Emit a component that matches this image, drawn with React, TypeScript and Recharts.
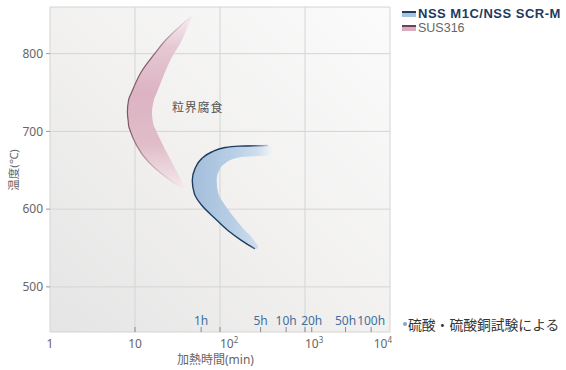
import { ComposedChart, Area, Line, XAxis, YAxis, CartesianGrid } from 'recharts'

// SUS316 sensitization band: temperature (°C) vs heating time (min), outer/inner edge
const sus316Temp = [849, 833, 815, 798, 776, 750, 740.3, 724.8, 711.9, 704, 682, 660, 640, 627]
const sus316Outer = [46.8, 32.1, 21.9, 16.5, 11.77, 9.1, 8.4, 8.14, 8.34, 8.57, 10.42, 14.61, 23.8, 34.8]
const sus316Inner = [48.5, 40.9, 34.8, 28.0, 22.5, 18.1, 16.7, 15.85, 16.3, 17.2, 21.4, 27.3, 33.8, 37.7]

// NSS M1C / NSS SCR-M band
const nssTemp = [681.8, 679.3, 673.5, 669.3, 667.3, 665, 658.6, 652.1, 637, 620, 605, 588, 572.5, 564, 559.6, 551, 549]
const nssOuter = [172, 114.5, 79.8, 68.4, 64, 60.9, 55.1, 50.8, 47.2, 49.9, 60.9, 87.4, 124, 154, 180, 238, 258]
const nssInner = [400, 420, 420, 400, 186, 150, 114.5, 100, 91.4, 95.5, 114.5, 150, 197, 236, 251, 282, 272]

// dark edge line along the outside of the NSS band
const nssEdgeTemp = [681.8, 681.0, 679.3, 673.5, 665, 652.1, 637, 620, 605, 588, 572.5, 559.6, 549]
const nssEdgeTime = [367, 172, 114.5, 79.8, 60.9, 50.8, 47.2, 49.9, 60.9, 87.4, 124, 180, 258]

const decadeTicks = [1, 10, 100, 1000, 10000]
const decadeExp = ['', '', '2', '3', '4']
const hourTickValues = [10, 60, 100, 300, 600, 1000, 1200, 3000, 6000]
const hourTickLabels = ['', '1h', '', '5h', '10h', '', '20h', '50h', '100h']
const tempTicks = [500, 600, 700, 800]

const sus316Data = sus316Temp.map((t, i) => ({ t, band: [sus316Outer[i], sus316Inner[i]], edge: sus316Outer[i] }))
const nssData = nssTemp.map((t, i) => ({ t, band: [nssOuter[i], nssInner[i]] }))
const nssEdgeData = nssEdgeTemp.map((t, i) => ({ t, edge: nssEdgeTime[i] }))

const FONT = '"Noto Sans", "Noto Sans CJK JP", sans-serif'
const LEGEND_FONT = '"Liberation Sans", "Noto Sans", sans-serif'

function DecadeTick(props: any) {
  const { x, y, payload } = props
  const i = decadeTicks.indexOf(payload.value)
  const exp = decadeExp[i]
  if (!exp) {
    return (
      <text x={x} y={y + 16} textAnchor="middle" fontSize={12} fill="#666" fontFamily={FONT}>
        {payload.value}
      </text>
    )
  }
  const last = i === decadeTicks.length - 1
  return (
    <text x={last ? x + 2 : x} y={y + 16} textAnchor={last ? 'end' : 'start'} fontSize={12} fill="#666" fontFamily={FONT}>
      10
      <tspan dy={-5} fontSize={8}>{exp}</tspan>
    </text>
  )
}

function HourTick(props: any) {
  const { x, y, payload } = props
  const label = hourTickLabels[hourTickValues.indexOf(payload.value)]
  if (!label) return <g />
  return (
    <text x={x} y={y} textAnchor="middle" fontSize={12} fill="#3f6f9f" fontFamily={FONT}>
      {label}
    </text>
  )
}

export default function App() {
  return (
    <div style={{ position: 'absolute', left: 0, top: 0, width: 566, height: 370, background: '#fff', fontFamily: FONT }}>
      <ComposedChart
        layout="vertical"
        width={566}
        height={370}
        margin={{ top: 7, right: 176, left: 0, bottom: 0 }}
      >
        <defs>
          <linearGradient id="plotBg" x1="0" y1="1" x2="1" y2="0">
            <stop offset="0%" stopColor="#e5e5e5" />
            <stop offset="45%" stopColor="#f1f0ef" />
            <stop offset="100%" stopColor="#fbfbfb" />
          </linearGradient>
          <linearGradient id="susFill" x1="0" y1="0" x2="0" y2="1">
            <stop offset="0%" stopColor="#f7eef2" />
            <stop offset="18%" stopColor="#e6c8d3" />
            <stop offset="45%" stopColor="#dcb3c2" />
            <stop offset="75%" stopColor="#e0bdc9" />
            <stop offset="100%" stopColor="#f4e8ec" />
          </linearGradient>
          <linearGradient id="susEdge" x1="0" y1="0" x2="0" y2="1">
            <stop offset="0%" stopColor="#6a4453" stopOpacity={0} />
            <stop offset="25%" stopColor="#6a4453" stopOpacity={0.85} />
            <stop offset="65%" stopColor="#6a4453" stopOpacity={0.85} />
            <stop offset="100%" stopColor="#6a4453" stopOpacity={0} />
          </linearGradient>
          <linearGradient id="nssFill" x1="0" y1="0" x2="1" y2="0">
            <stop offset="0%" stopColor="#a3bedb" />
            <stop offset="50%" stopColor="#b7cee5" />
            <stop offset="80%" stopColor="#cedded" />
            <stop offset="100%" stopColor="#f2f5f9" />
          </linearGradient>
          <linearGradient id="nssEdge" x1="0" y1="0" x2="1" y2="0">
            <stop offset="0%" stopColor="#1d3d60" />
            <stop offset="75%" stopColor="#1d3d60" />
            <stop offset="100%" stopColor="#1d3d60" stopOpacity={0.2} />
          </linearGradient>
        </defs>
        <CartesianGrid fill="url(#plotBg)" stroke="#d4d4d4" />
        <XAxis
          type="number"
          scale="log"
          domain={[1, 10000]}
          allowDataOverflow
          ticks={decadeTicks}
          interval={0}
          axisLine={false}
          tickLine={false}
          tickSize={0}
          tickMargin={0}
          height={38}
          tick={(p: any) => <DecadeTick {...p} />}
        />
        <XAxis
          xAxisId="hours"
          type="number"
          scale="log"
          domain={[1, 10000]}
          allowDataOverflow
          ticks={hourTickValues}
          interval={0}
          mirror
          height={1}
          axisLine={false}
          tickSize={5}
          tickMargin={2}
          tickLine={{ stroke: '#8a8a8a' }}
          tick={(p: any) => <HourTick {...p} />}
        />
        <YAxis
          type="number"
          dataKey="t"
          domain={[442, 860]}
          allowDataOverflow
          reversed
          ticks={tempTicks}
          interval={0}
          width={50}
          axisLine={false}
          tickSize={4}
          tickMargin={3}
          tickLine={{ stroke: '#999' }}
          tick={{ fontSize: 12, fill: '#666', fontFamily: FONT }}
        />
        <Area
          data={sus316Data}
          dataKey="band"
          type="natural"
          stroke="none"
          fill="url(#susFill)"
          fillOpacity={1}
          dot={false}
          activeDot={false}
          isAnimationActive={false}
        />
        <Line
          data={sus316Data}
          dataKey="edge"
          type="natural"
          stroke="url(#susEdge)"
          strokeWidth={1.2}
          dot={false}
          activeDot={false}
          isAnimationActive={false}
        />
        <Area
          data={nssData}
          dataKey="band"
          type="monotone"
          stroke="none"
          fill="url(#nssFill)"
          fillOpacity={1}
          dot={false}
          activeDot={false}
          isAnimationActive={false}
        />
        <Line
          data={nssEdgeData}
          dataKey="edge"
          type="monotone"
          stroke="url(#nssEdge)"
          strokeWidth={1.4}
          dot={false}
          activeDot={false}
          isAnimationActive={false}
        />
      </ComposedChart>

      {/* axis titles */}
      <div
        style={{
          position: 'absolute',
          left: 13,
          top: 170,
          transform: 'translate(-50%, -50%) rotate(-90deg)',
          fontSize: 11.5,
          color: '#666',
          whiteSpace: 'nowrap',
        }}
      >
        温度(℃)
      </div>
      <div style={{ position: 'absolute', left: 177, top: 350, fontSize: 12, color: '#666', whiteSpace: 'nowrap' }}>
        加熱時間(min)
      </div>

      <div style={{ position: 'absolute', left: 172, top: 98, fontSize: 12, letterSpacing: 0.8, color: '#555', whiteSpace: 'nowrap' }}>
        粒界腐食
      </div>

      {/* legend */}
      <div style={{ position: 'absolute', left: 402, top: 6, whiteSpace: 'nowrap', fontFamily: LEGEND_FONT }}>
        <div style={{ display: 'flex', alignItems: 'center', height: 15, lineHeight: '15px' }}>
          <span style={{ width: 14, height: 4, background: '#a9c3dd', borderTop: '2px solid #1d3d60', marginRight: 2 }} />
          <span style={{ fontSize: 13, fontWeight: 700, color: '#1d3a5e', letterSpacing: 0.5 }}>NSS M1C/NSS SCR-M</span>
        </div>
        <div style={{ display: 'flex', alignItems: 'center', height: 14, lineHeight: '14px' }}>
          <span style={{ width: 14, height: 4, background: '#d9adbd', borderTop: '2px solid #6a4453', marginRight: 2 }} />
          <span style={{ fontSize: 12.5, color: '#666' }}>SUS316</span>
        </div>
      </div>

      <div style={{ position: 'absolute', left: 403, top: 314, display: 'flex', alignItems: 'center', whiteSpace: 'nowrap' }}>
        <span style={{ width: 4, height: 4, borderRadius: 2, background: '#86a5cd', marginRight: 1 }} />
        <span style={{ fontSize: 13.8, color: '#333' }}>硫酸・硫酸銅試験による</span>
      </div>
    </div>
  )
}
